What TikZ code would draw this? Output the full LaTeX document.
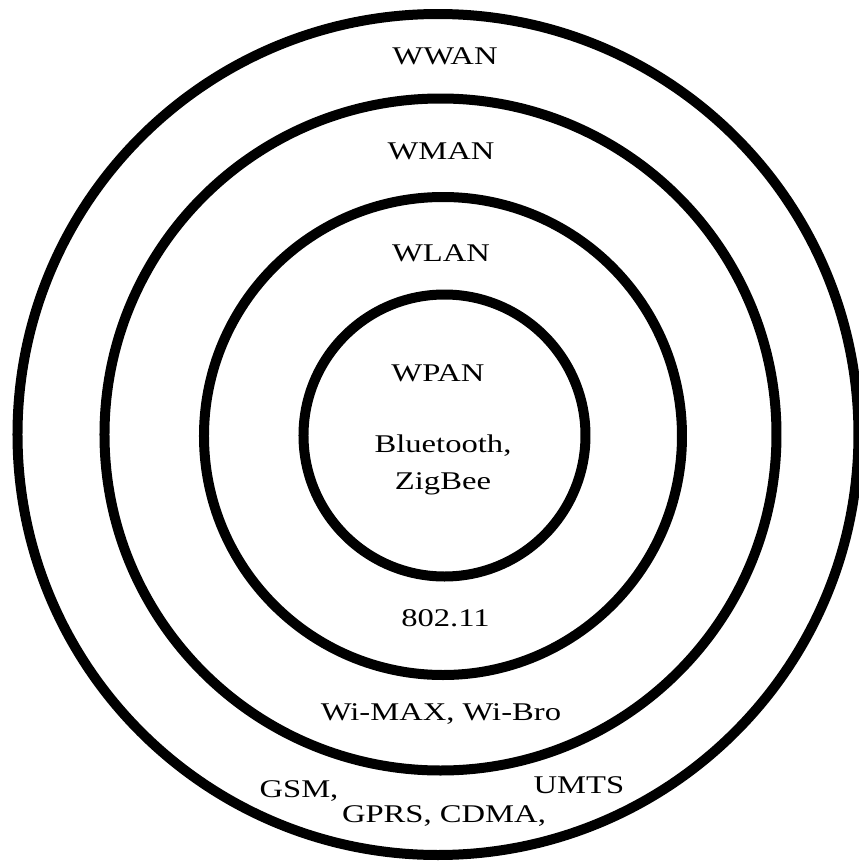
\documentclass[tikz,border=0pt]{standalone}
\usepackage{fontspec}
\setmainfont{Liberation Serif}[FakeStretch=1.28]
\usepackage{tikz}

\begin{document}
\begin{tikzpicture}[ring/.style={line width=0.2cm},
		netlabel/.style={anchor=base,inner sep=0pt,font=\fontsize{14.5}{21}\selectfont}]
			\useasboundingbox[fill=white] (-8.8,-8.52) rectangle (8.38,8.7);
			\draw[ring] (-0.04,0.01) circle (8.41);
			\draw[ring] (0.01,0.01) circle (6.72);
			\draw[ring] (0.06,-0.02) circle (4.78);
			\draw[ring] (0.09,-0.01) circle (2.82);
			\node[netlabel] (wwan) at (0.1,7.41) {WWAN};
			\node[netlabel] (wman) at (0.02,5.51) {WMAN};
			\node[netlabel] (wlan) at (0.02,3.47) {WLAN};
			\node[netlabel] (wpan) at (-0.04,1.07) {WPAN};
			\node[netlabel,align=center] (bt) at (0.06,-1.09) {Bluetooth,\\ZigBee};
			\node[netlabel] (wifi) at (0.11,-3.83) {802.11};
			\node[netlabel] (wimax) at (0.02,-5.71) {Wi-MAX, Wi-Bro};
			\node[netlabel] (gsm) at (-2.82,-7.25) {GSM,};
			\node[netlabel] (gprs) at (0.08,-7.74) {GPRS, CDMA,};
			\node[netlabel] (umts) at (2.78,-7.17) {UMTS};
		\end{tikzpicture}
\end{document}
